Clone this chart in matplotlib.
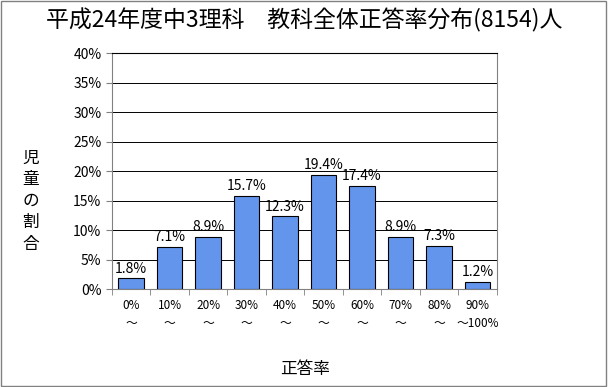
import matplotlib
matplotlib.use('Agg')
import matplotlib.pyplot as plt
from matplotlib.patches import Rectangle
import numpy as np

plt.rcParams['font.family'] = ['Noto Sans CJK JP', 'DejaVu Sans']

categories = ['0%\n～', '10%\n～', '20%\n～', '30%\n～', '40%\n～',
              '50%\n～', '60%\n～', '70%\n～', '80%\n～', '90%\n～100%']
values = [1.8, 7.1, 8.9, 15.7, 12.3, 19.4, 17.4, 8.9, 7.3, 1.2]
yticks = [0, 5, 10, 15, 20, 25, 30, 35, 40]

fig = plt.figure(figsize=(6.08, 3.87), dpi=100)
ax = fig.add_axes([0.184, 0.253, 0.633, 0.610])

x = np.arange(len(values))
ax.bar(x, values, width=0.67, color='#6495ED', edgecolor='black', lw=0.8, zorder=3)
for xi, v in zip(x, values):
    ax.text(xi, v + 0.5, f'{v:.1f}%', ha='center', va='bottom', fontsize=10)

ax.set_xlim(-0.5, len(values) - 0.5)
ax.set_ylim(0, 40)
ax.set_yticks(yticks)
ax.set_yticklabels([f'{t}%' for t in yticks], fontsize=10)
ax.yaxis.grid(True, color='black', lw=0.7, zorder=0)
ax.set_xticks(x)
ax.set_xticklabels(categories, fontsize=8.5, linespacing=1.5)
ax.tick_params(axis='x', length=0, pad=7)
ax.set_xticks(np.arange(len(values) + 1) - 0.5, minor=True)
ax.tick_params(axis='x', which='minor', length=4, direction='out', color='gray')
ax.tick_params(axis='y', length=4, color='gray')
for s in ax.spines.values():
    s.set_color('gray')
ax.spines['top'].set_color('black')

fig.text(0.5, 0.948, '平成24年度中3理科　教科全体正答率分布(8154)人',
         ha='center', va='center', fontsize=16.5)
fig.text(0.05, 0.48, '児\n童\nの\n割\n合', ha='center', va='center',
         fontsize=12, linespacing=1.35)
fig.text(0.502, 0.045, '正答率', ha='center', va='center', fontsize=12)

fig.patches.append(Rectangle((0.002, 0.003), 0.995, 0.994, transform=fig.transFigure,
                             fill=False, edgecolor='gray', lw=1))

fig.savefig('out.png', dpi=100)
